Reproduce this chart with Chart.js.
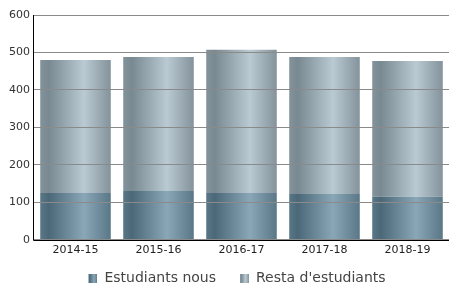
<!DOCTYPE html>
<html>
<head>
<meta charset="utf-8">
<script src="https://cdn.jsdelivr.net/npm/chart.js@4/dist/chart.umd.min.js"></script>
<style>
  body { margin: 0; background: #fff; }
  #wrap { width: 456px; height: 305px; }
</style>
</head>
<body>
<div id="wrap"><canvas id="myChart" width="456" height="305"></canvas></div>
<script>
// data
const cursos = ['2014-15', '2015-16', '2016-17', '2017-18', '2018-19'];
const nous = [125, 130, 125, 122, 115];
const resta = [355, 358, 382, 366, 362];
const yTicks = [0, 100, 200, 300, 400, 500, 600];

// horizontal "cylinder" gradient per bar
function barGradient(ctx, x0, x1, dark, light, mid) {
  const g = ctx.createLinearGradient(x0, 0, x1, 0);
  g.addColorStop(0, mid);
  g.addColorStop(0.12, dark);
  g.addColorStop(0.62, light);
  g.addColorStop(1, mid);
  return g;
}

function scriptedFill(dark, light, mid) {
  return function (context) {
    const chart = context.chart;
    const x = chart.scales.x;
    if (!x || context.dataIndex === undefined) return dark;
    const c = x.getPixelForValue(context.dataIndex);
    const half = (x.width / cursos.length) * 0.85 / 2;
    if (!isFinite(c) || !isFinite(half) || half <= 0) return dark;
    return barGradient(chart.ctx, c - half, c + half, dark, light, mid);
  };
}

// legend icon: square on the right, empty space on the left to widen item gaps
function legendIcon(dark, light, mid) {
  const cv = document.createElement('canvas');
  cv.width = 23; cv.height = 9;
  const c = cv.getContext('2d');
  c.fillStyle = barGradient(c, 14, 23, dark, light, mid);
  c.fillRect(14, 0, 9, 9);
  return cv;
}

const colNous = ['#4b6879', '#89a7b7', '#5a7787'];
const colResta = ['#788992', '#bacad2', '#84939b'];

// black axis lines (left and bottom)
const axisLines = {
  id: 'axisLines',
  afterLayout(chart) {
    // nudge the legend a little to the right
    if (chart.legend) chart.legend.left += 6;
  },
  afterDraw(chart) {
    const a = chart.chartArea;
    const c = chart.ctx;
    c.save();
    c.strokeStyle = '#000';
    c.lineWidth = 1;
    c.beginPath();
    c.moveTo(Math.round(a.left) - 0.5, Math.round(a.top));
    c.lineTo(Math.round(a.left) - 0.5, Math.round(a.bottom) + 0.5);
    c.lineTo(Math.round(a.right), Math.round(a.bottom) + 0.5);
    c.stroke();
    c.restore();
  }
};

const ctx = document.getElementById('myChart').getContext('2d');
new Chart(ctx, {
  type: 'bar',
  data: {
    labels: cursos,
    datasets: [{
      label: 'Estudiants nous',
      data: nous,
      backgroundColor: scriptedFill(...colNous),
      pointStyle: legendIcon(...colNous),
      barPercentage: 0.85,
      categoryPercentage: 1
    }, {
      label: "Resta d'estudiants",
      data: resta,
      backgroundColor: scriptedFill(...colResta),
      pointStyle: legendIcon(...colResta),
      barPercentage: 0.85,
      categoryPercentage: 1
    }]
  },
  options: {
    responsive: false,
    animation: false,
    layout: { padding: { left: 5, right: 7, top: 15, bottom: 10 } },
    plugins: {
      tooltip: { enabled: false },
      legend: {
        position: 'bottom',
        labels: {
          usePointStyle: true,
          pointStyleWidth: 23,
          boxHeight: 9,
          padding: 10,
          color: '#444',
          font: { family: 'DejaVu Sans', size: 14 }
        }
      }
    },
    scales: {
      x: {
        stacked: true,
        grid: { display: false, drawTicks: false },
        border: { display: false },
        ticks: { color: '#222', font: { family: 'DejaVu Sans', size: 11 }, padding: 4 }
      },
      y: {
        stacked: true,
        min: 0,
        max: 600,
        afterBuildTicks: (axis) => { axis.ticks = yTicks.map(v => ({ value: v })); },
        grid: { color: '#8a8a8a', z: 1, drawTicks: false },
        border: { display: false },
        ticks: { color: '#333', font: { family: 'DejaVu Sans', size: 11 }, padding: 4 }
      }
    }
  },
  plugins: [axisLines]
});
</script>
</body>
</html>
